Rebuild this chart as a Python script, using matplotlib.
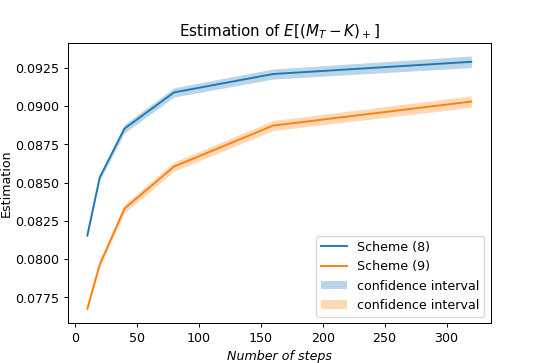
import matplotlib
matplotlib.use("Agg")
import matplotlib.pyplot as plt
import numpy as np

# ---- Daten ----
steps = [10, 20, 40, 80, 160, 320]
scheme8 = [0.08154, 0.08534, 0.08853, 0.09090, 0.09210, 0.09290]
scheme9 = [0.07675, 0.07965, 0.08330, 0.08605, 0.08873, 0.09030]
ci8 = [0.00010, 0.00020, 0.00028, 0.00030, 0.00033, 0.00038]
ci9 = [0.00010, 0.00020, 0.00028, 0.00030, 0.00033, 0.00038]

s8 = np.array(scheme8)
s9 = np.array(scheme9)
c8 = np.array(ci8)
c9 = np.array(ci9)

fig, ax = plt.subplots(figsize=(6, 4), dpi=545 / 6)
ax.plot(steps, s8, color="C0", label="Scheme (8)")
ax.plot(steps, s9, color="C1", label="Scheme (9)")
ax.fill_between(steps, s8 - c8, s8 + c8, color="C0", alpha=0.3, lw=0,
                label="confidence interval")
ax.fill_between(steps, s9 - c9, s9 + c9, color="C1", alpha=0.3, lw=0,
                label="confidence interval")

ax.set_title("Estimation of $E[(M_T-K)_+]$")
ax.set_xlabel("Number of steps", style="italic")
ax.set_ylabel("Estimation", labelpad=2)
ax.legend(loc="lower right")

fig.savefig("out.png", dpi=545 / 6)
